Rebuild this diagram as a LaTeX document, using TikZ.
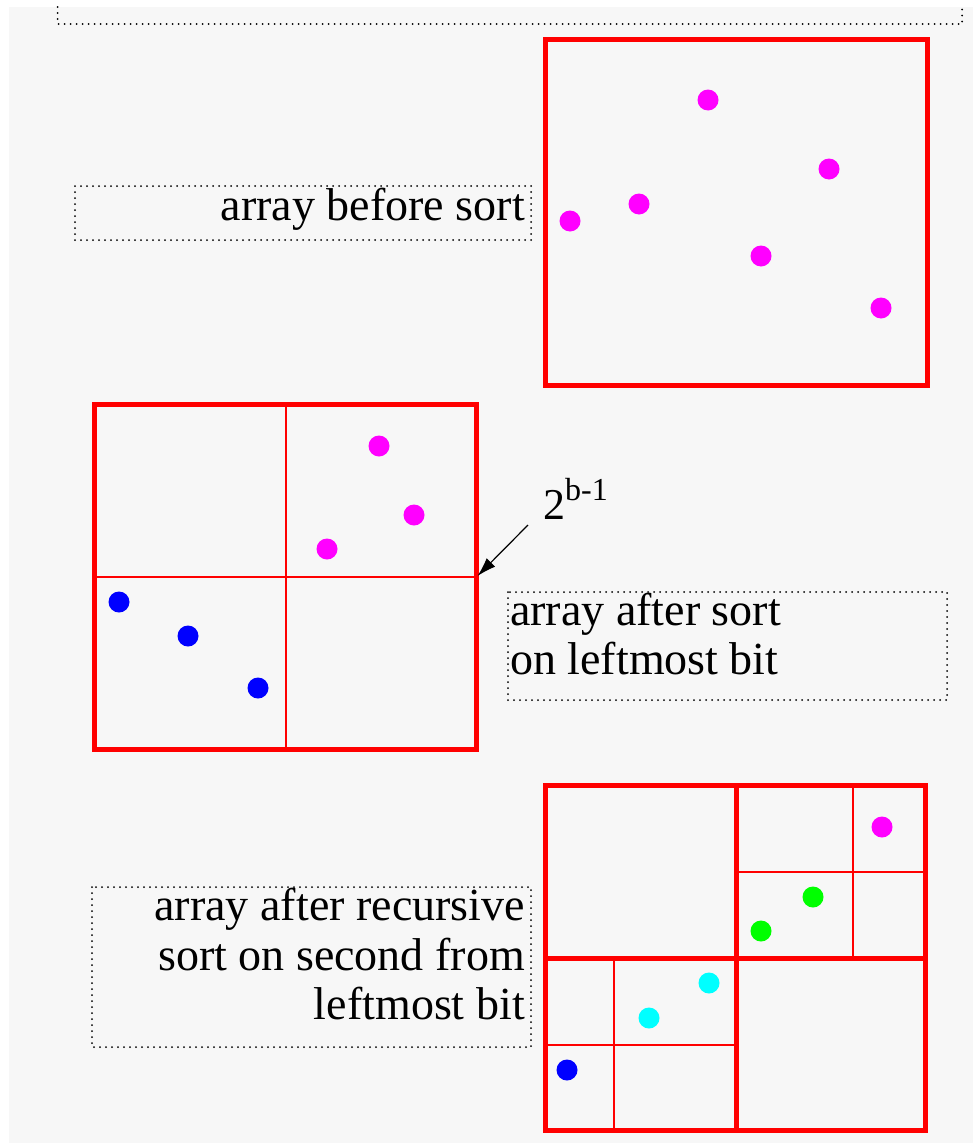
\documentclass[tikz,border=0pt]{standalone}
\usepackage{fontspec}
\setmainfont{Liberation Serif}
\newfontfamily\capfont{Liberation Serif}
\usetikzlibrary{arrows.meta}
\definecolor{paper}{HTML}{F7F7F7}
\definecolor{pRed}{HTML}{FF0000}
\definecolor{pMagenta}{HTML}{FF00FF}
\definecolor{pBlue}{HTML}{0000FF}
\definecolor{pGreen}{HTML}{00FF00}
\definecolor{pCyan}{HTML}{00FFFF}
\tikzset{
  frame/.style={draw=pRed, line width=5pt},
  divide/.style={draw=pRed, line width=1.4pt},
  labelbox/.style={draw=black, line width=2pt, line cap=round,
    dash pattern=on 0pt off 6pt},
  caption/.style={inner sep=0pt, font=\capfont\fontsize{46}{50}\selectfont},
  pt/.style={circle, inner sep=0pt, minimum size=21pt},
}
\begin{document}
\begin{tikzpicture}[x=1pt,y=-1pt]
  \useasboundingbox (0,0) rectangle (973,1143);
  \fill[white] (0,0) rectangle (973,1143);
  \fill[paper] (9,7) rectangle (973,1143);

  % partly visible label frame at the top
  \draw[labelbox] (57.5,7) -- (57.5,24) -- (962,24) -- (962,7);

  % ---- array before sort ----
  \draw[labelbox] (75,186) rectangle (531,240);
  \node[caption, anchor=base east] (lab1) at (525,220) {array before sort};
  \draw[frame] (545.5,39.5) rectangle (927,385);
  \foreach \x/\y [count=\i] in {708/100, 829/169, 639/204, 570/221, 761/256, 881/308}
    \node[pt, fill=pMagenta] (a\i) at (\x,\y) {};

  % ---- after sort on leftmost bit ----
  \draw[frame] (94,404) rectangle (476,749);
  \draw[divide] (286,404) -- (286,749);
  \draw[divide] (94,577) -- (476,577);
  \foreach \x/\y [count=\i] in {379/446, 414/515, 327/549}
    \node[pt, fill=pMagenta] (b\i) at (\x,\y) {};
  \foreach \x/\y [count=\i] in {119/602, 188/636, 258/688}
    \node[pt, fill=pBlue] (c\i) at (\x,\y) {};

  \node[inner sep=0pt, anchor=base west, font=\capfont\fontsize{44}{44}\selectfont] (half) at (543,519)
    {2\raisebox{19pt}{\fontsize{32}{32}\selectfont b-1}};
  \coordinate (tail) at (528,525);
  \coordinate (split) at (477.5,576);
  \draw[line width=1.2pt, -{Latex[length=19pt, width=12pt]}] (tail) -- (split);

  \draw[labelbox] (508,592) rectangle (947,700);
  \node[caption, anchor=base west] (lab2a) at (510,625) {array after sort};
  \node[caption, anchor=base west] (lab2b) at (510,674) {on leftmost bit};

  % ---- after recursive sort on second bit ----
  \draw[labelbox] (92,887) rectangle (531,1047);
  \node[caption, anchor=base east] (lab3a) at (525,920) {array after recursive};
  \node[caption, anchor=base east] (lab3b) at (525,970) {sort on second from};
  \node[caption, anchor=base east] (lab3c) at (525,1019) {leftmost bit};

  \draw[divide] (853,785.5) -- (853,958);
  \draw[divide] (736,872) -- (925.5,872);
  \draw[divide] (614,958) -- (614,1130.5);
  \draw[divide] (545.5,1045) -- (736,1045);
  \draw[frame] (736,785.5) -- (736,1130.5);
  \draw[frame] (545.5,958) -- (925.5,958);
  \draw[frame] (545.5,785.5) rectangle (925.5,1130.5);
  \node[pt, fill=pMagenta] (d1) at (882,827) {};
  \node[pt, fill=pGreen] (d2) at (813,897) {};
  \node[pt, fill=pGreen] (d3) at (761,931) {};
  \node[pt, fill=pCyan] (d4) at (709,983) {};
  \node[pt, fill=pCyan] (d5) at (649,1018) {};
  \node[pt, fill=pBlue] (d6) at (567,1070) {};
\end{tikzpicture}
\end{document}
